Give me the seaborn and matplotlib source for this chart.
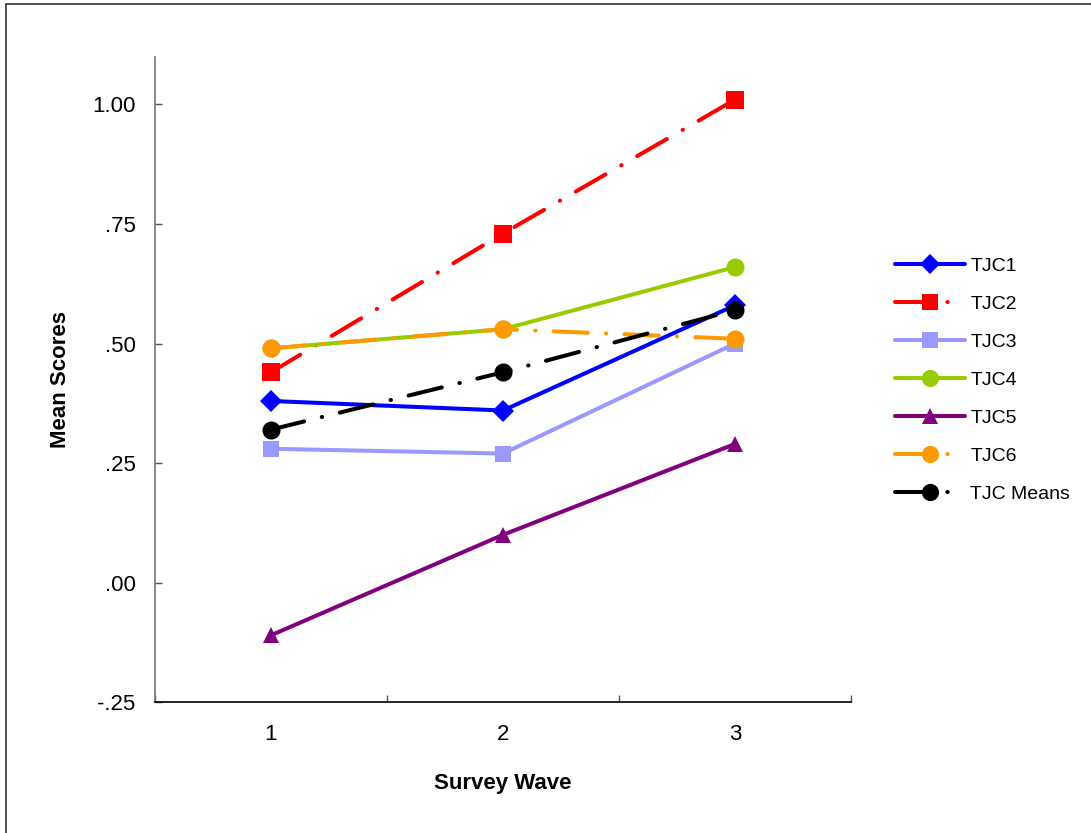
import pandas as pd
import seaborn as sns
import matplotlib.pyplot as plt
from matplotlib.patches import Rectangle
from matplotlib.ticker import FixedLocator

sns.set_style("white")
plt.rcParams['font.family'] = ['Liberation Sans', 'DejaVu Sans']
plt.rcParams['text.color'] = 'black'
plt.rcParams['axes.labelcolor'] = 'black'
plt.rcParams['xtick.color'] = 'black'
plt.rcParams['ytick.color'] = 'black'

# Data
waves = [1, 2, 3]
series_names = ["TJC1", "TJC2", "TJC3", "TJC4", "TJC5", "TJC6", "TJC Means"]
tjc1 = [0.38, 0.36, 0.58]
tjc2 = [0.44, 0.73, 1.01]
tjc3 = [0.28, 0.27, 0.50]
tjc4 = [0.49, 0.53, 0.66]
tjc5 = [-0.11, 0.10, 0.29]
tjc6 = [0.49, 0.53, 0.51]
tjc_means = [0.32, 0.44, 0.57]
ytick_vals = [-0.25, 0.00, 0.25, 0.50, 0.75, 1.00]
ytick_labels = ["-.25", ".00", ".25", ".50", ".75", "1.00"]

values = [tjc1, tjc2, tjc3, tjc4, tjc5, tjc6, tjc_means]
rows = []
for name, vals in zip(series_names, values):
    for w, v in zip(waves, vals):
        rows.append({"wave": w, "score": v, "series": name})
df = pd.DataFrame(rows)

palette = {"TJC1": "#0000FF", "TJC2": "#FF0000", "TJC3": "#9999FF", "TJC4": "#99CC00",
           "TJC5": "#800080", "TJC6": "#FF9900", "TJC Means": "#000000"}
markers = {"TJC1": "D", "TJC2": "s", "TJC3": "s", "TJC4": "o",
           "TJC5": "^", "TJC6": "o", "TJC Means": "o"}
dashdot = (8.5, 4.5, 0.1, 4.5)
dashes = {"TJC1": "", "TJC2": dashdot, "TJC3": "", "TJC4": "",
          "TJC5": "", "TJC6": dashdot, "TJC Means": dashdot}
msize = {"TJC1": 11, "TJC2": 12.5, "TJC3": 12, "TJC4": 13,
         "TJC5": 12, "TJC6": 13, "TJC Means": 13}

fig = plt.figure(figsize=(10.91, 8.33), dpi=100)
ax = fig.add_axes([0.142, 0.157, 0.638, 0.775])

sns.lineplot(data=df, x="wave", y="score", hue="series", style="series",
             hue_order=series_names, style_order=series_names,
             palette=palette, markers=markers, dashes=dashes,
             linewidth=2.9, markersize=12, markeredgewidth=0,
             dash_capstyle="round", solid_capstyle="round", ax=ax)

for line, name in zip(ax.get_lines(), series_names):
    line.set_markersize(msize[name])

ax.set_xlim(0.5, 3.5)
ax.set_ylim(-0.25, 1.10)
ax.set_xticks(waves)
ax.set_xticklabels([str(w) for w in waves])
ax.xaxis.set_minor_locator(FixedLocator([0.5, 1.5, 2.5, 3.5]))
ax.tick_params(axis="x", which="major", bottom=True, length=0, pad=16, labelsize=16)
ax.tick_params(axis="x", which="minor", bottom=True, direction="in", length=5, width=1, color="#555555")
ax.set_yticks(ytick_vals)
ax.set_yticklabels(ytick_labels)
ax.tick_params(axis="y", left=True, direction="in", length=5, width=1, pad=14, labelsize=16, color="#555555")

for s in ["top", "right"]:
    ax.spines[s].set_visible(False)
ax.spines["left"].set_color("#777777")
ax.spines["bottom"].set_color("#000000")
ax.spines["left"].set_linewidth(1.2)
ax.spines["bottom"].set_linewidth(1.2)

ax.set_xlabel("Survey Wave", fontsize=16, fontweight="bold", labelpad=20)
ax.set_ylabel("Mean Scores", fontsize=16, fontweight="bold", labelpad=15)

leg = ax.legend(loc="center left", bbox_to_anchor=(1.0375, 0.499), frameon=False,
                fontsize=14, handlelength=3.6, labelspacing=1.05, handletextpad=0.3)
for h, name in zip(leg.get_lines(), series_names):
    h.set_markersize(msize[name] * 0.95)

fig.patches.append(Rectangle((6 / 1091, -0.01), 1.0, 1 - 4 / 833 + 0.01,
                             transform=fig.transFigure, fill=False,
                             edgecolor="#333333", linewidth=1.2))

fig.savefig("out.png", dpi=100)
